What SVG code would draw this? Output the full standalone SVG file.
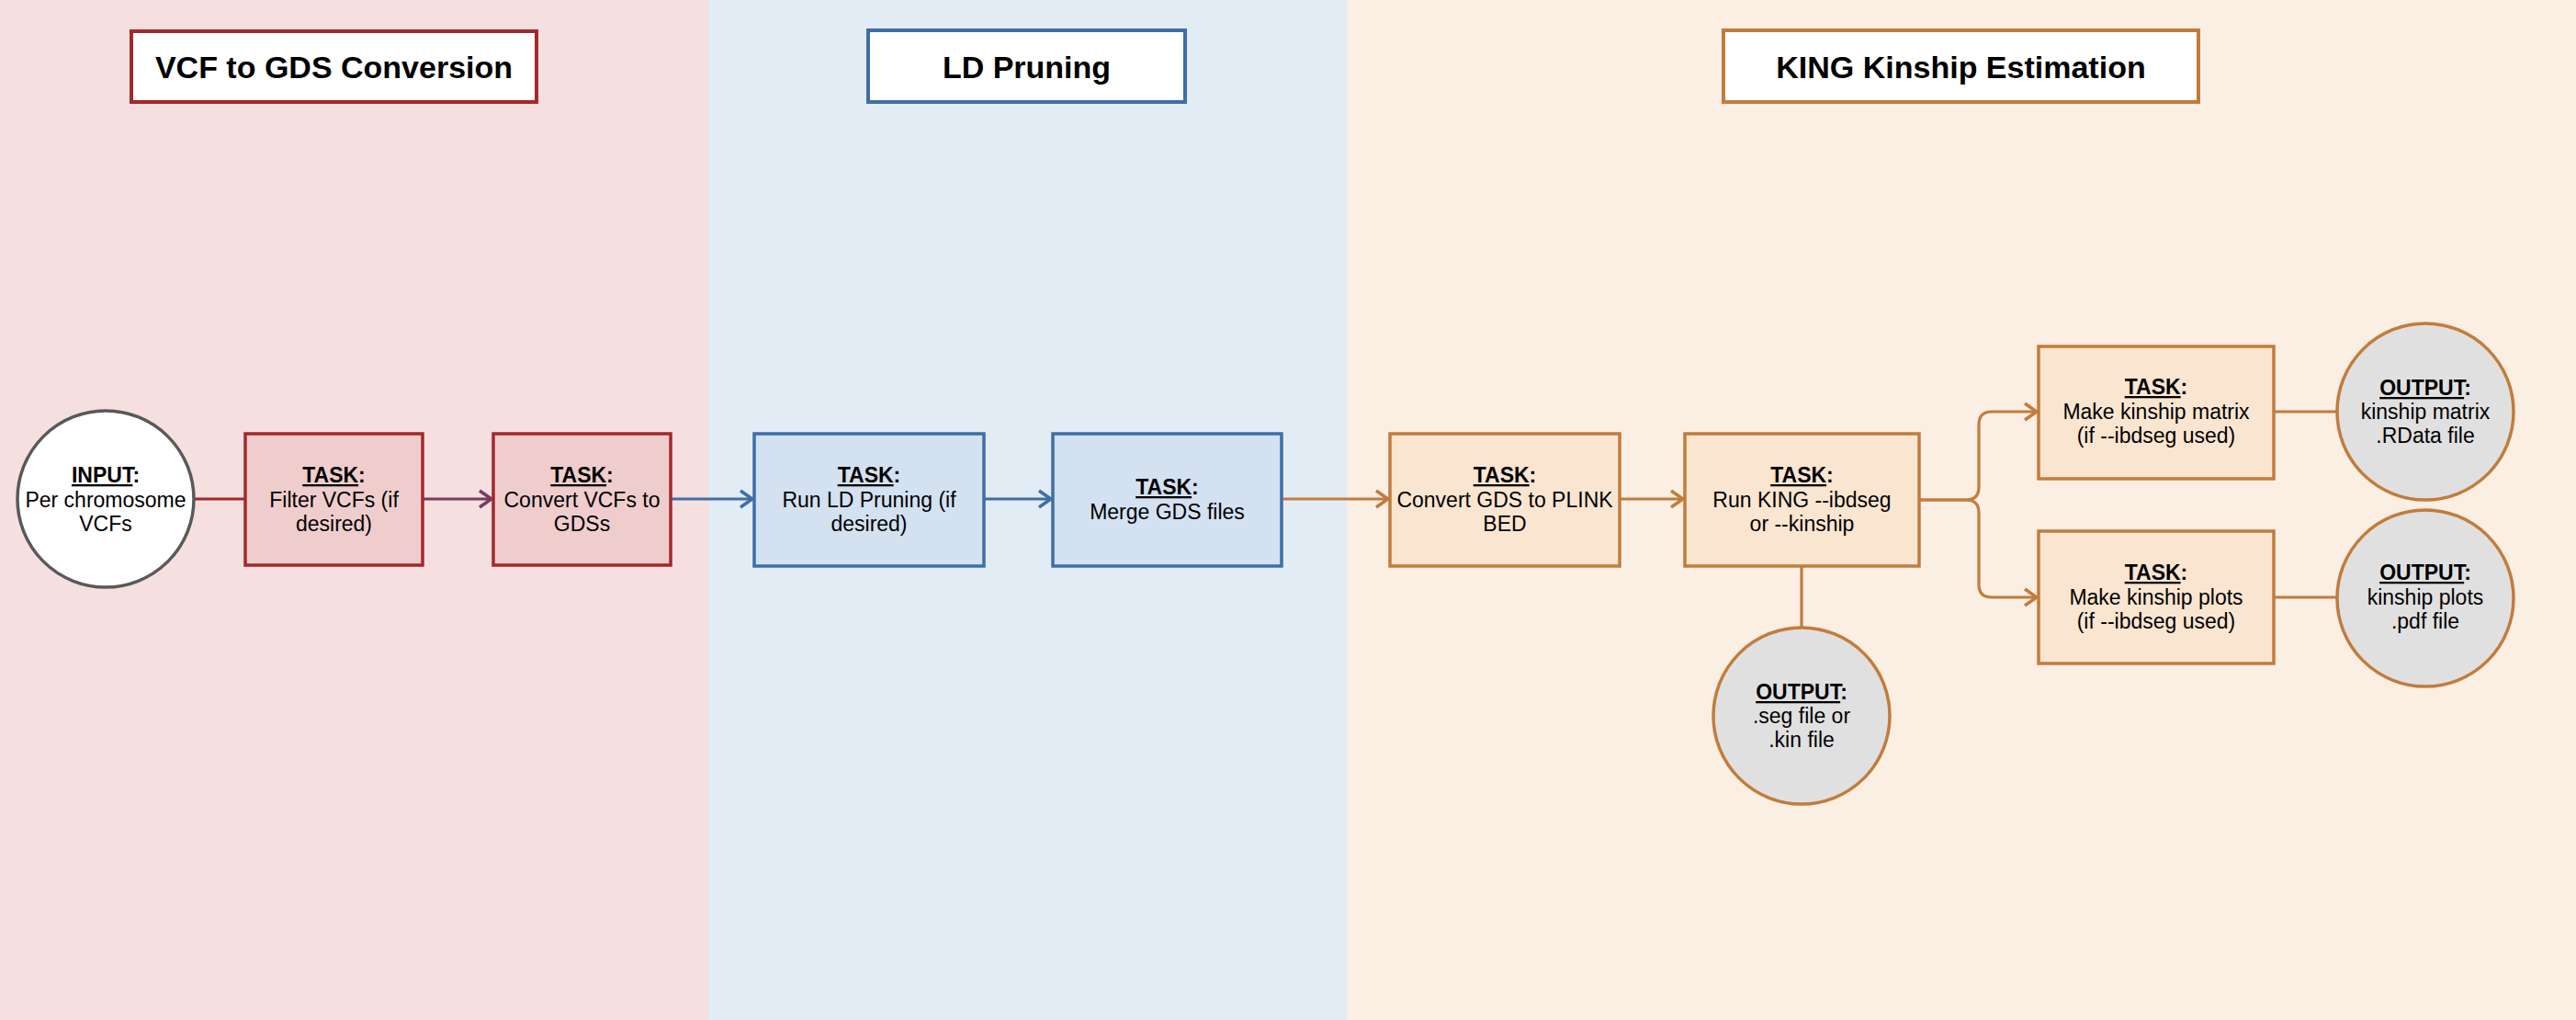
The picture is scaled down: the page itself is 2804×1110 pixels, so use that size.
<svg xmlns="http://www.w3.org/2000/svg" width="2804" height="1110" viewBox="0 0 2804 1110">
<style>
text{font-family:"Liberation Sans",Arial,sans-serif;font-size:23px;fill:#000;text-anchor:middle}
.title{font-size:34px;font-weight:bold}
.hd{font-weight:bold}
.u{text-decoration:underline}
.tr{fill:#fff;stroke-width:4}
.boxR{fill:#efcdcd;stroke:#a3282b;stroke-width:3.5}
.boxB{fill:#d3e1f0;stroke:#3f6ea7;stroke-width:3.5}
.boxO{fill:#fae5d0;stroke:#c17c3d;stroke-width:3.5}
.out{fill:#e0e0e0;stroke:#c17c3d;stroke-width:3.5}
.c{fill:none;stroke-width:3.2}
</style>
<defs>
<marker id="aP" viewBox="-17 -12 19 24" markerWidth="19" markerHeight="24" refX="0" refY="0" orient="auto" markerUnits="userSpaceOnUse"><path d="M-14,-9 L-1,0 L-14,9" fill="none" stroke="#7a3b5d" stroke-width="3.5"/></marker>
<marker id="aB" viewBox="-17 -12 19 24" markerWidth="19" markerHeight="24" refX="0" refY="0" orient="auto" markerUnits="userSpaceOnUse"><path d="M-14,-9 L-1,0 L-14,9" fill="none" stroke="#3f6ea7" stroke-width="3.5"/></marker>
<marker id="aO" viewBox="-17 -12 19 24" markerWidth="19" markerHeight="24" refX="0" refY="0" orient="auto" markerUnits="userSpaceOnUse"><path d="M-14,-9 L-1,0 L-14,9" fill="none" stroke="#c17c3d" stroke-width="3.5"/></marker>
</defs>
<g id="panels">
<rect x="0" y="0" width="771" height="1110" fill="#f5dfdf"/>
<rect x="771" y="0" width="695" height="1110" fill="#e2ecf5"/>
<rect x="1466" y="0" width="1338" height="1110" fill="#fbeee2"/>
</g>
<g id="title-vcf"><rect class="tr" x="143" y="34" width="441" height="77" stroke="#a3282b"/><text class="title" x="363.5" y="85">VCF to GDS Conversion</text></g>
<g id="title-ld"><rect class="tr" x="945" y="33" width="345" height="78" stroke="#3f6ea7"/><text class="title" x="1117.5" y="85">LD Pruning</text></g>
<g id="title-king"><rect class="tr" x="1876" y="33" width="517" height="78" stroke="#c17c3d"/><text class="title" x="2134.5" y="85">KING Kinship Estimation</text></g>
<g id="connectors">
<path class="c" d="M211,543 H267" stroke="#a3282b"/>
<path class="c" d="M460,543 H536" stroke="#7a3b5d" marker-end="url(#aP)"/>
<path class="c" d="M730,543 H820" stroke="#3f6ea7" marker-end="url(#aB)"/>
<path class="c" d="M1071,543 H1145" stroke="#3f6ea7" marker-end="url(#aB)"/>
<path class="c" d="M1395,543 H1512" stroke="#c17c3d" marker-end="url(#aO)"/>
<path class="c" d="M1763,543 H1833" stroke="#c17c3d" marker-end="url(#aO)"/>
<path class="c" d="M1961,616 V683" stroke="#c17c3d"/>
<path class="c" d="M2089,544 H2140 Q2154,544 2154,530 V462 Q2154,448 2168,448 H2218" stroke="#c17c3d" marker-end="url(#aO)"/>
<path class="c" d="M2089,544 H2140 Q2154,544 2154,558 V636 Q2154,650 2168,650 H2218" stroke="#c17c3d" marker-end="url(#aO)"/>
<path class="c" d="M2475,448 H2544" stroke="#c17c3d"/>
<path class="c" d="M2475,650 H2544" stroke="#c17c3d"/>
</g>
<g id="input"><circle cx="115" cy="543" r="96" fill="#fff" stroke="#595959" stroke-width="3.5"/>
<text x="115" y="525"><tspan class="hd u">INPUT</tspan><tspan class="hd">:</tspan></text><text x="115" y="552">Per chromosome</text><text x="115" y="578">VCFs</text></g>
<g id="filter"><rect class="boxR" x="267" y="472" width="193" height="143"/>
<text x="363.5" y="525"><tspan class="hd u">TASK</tspan><tspan class="hd">:</tspan></text><text x="363.5" y="552">Filter VCFs (if</text><text x="363.5" y="578">desired)</text></g>
<g id="convert-vcf"><rect class="boxR" x="537" y="472" width="193" height="143"/>
<text x="633.5" y="525"><tspan class="hd u">TASK</tspan><tspan class="hd">:</tspan></text><text x="633.5" y="552">Convert VCFs to</text><text x="633.5" y="578">GDSs</text></g>
<g id="run-ld"><rect class="boxB" x="821" y="472" width="250" height="144"/>
<text x="946" y="525"><tspan class="hd u">TASK</tspan><tspan class="hd">:</tspan></text><text x="946" y="552">Run LD Pruning (if</text><text x="946" y="578">desired)</text></g>
<g id="merge"><rect class="boxB" x="1146" y="472" width="249" height="144"/>
<text x="1270.5" y="538"><tspan class="hd u">TASK</tspan><tspan class="hd">:</tspan></text><text x="1270.5" y="565">Merge GDS files</text></g>
<g id="convert-gds"><rect class="boxO" x="1513" y="472" width="250" height="144"/>
<text x="1638" y="525"><tspan class="hd u">TASK</tspan><tspan class="hd">:</tspan></text><text x="1638" y="552">Convert GDS to PLINK</text><text x="1638" y="578">BED</text></g>
<g id="king"><rect class="boxO" x="1834" y="472" width="255" height="144"/>
<text x="1961.5" y="525"><tspan class="hd u">TASK</tspan><tspan class="hd">:</tspan></text><text x="1961.5" y="552">Run KING --ibdseg</text><text x="1961.5" y="578">or --kinship</text></g>
<g id="out-seg"><ellipse class="out" cx="1961" cy="779" rx="96" ry="96"/>
<text x="1961" y="761"><tspan class="hd u">OUTPUT</tspan><tspan class="hd">:</tspan></text><text x="1961" y="787">.seg file or</text><text x="1961" y="813">.kin file</text></g>
<g id="matrix"><rect class="boxO" x="2219" y="377" width="256" height="144"/>
<text x="2347" y="429"><tspan class="hd u">TASK</tspan><tspan class="hd">:</tspan></text><text x="2347" y="456">Make kinship matrix</text><text x="2347" y="482">(if --ibdseg used)</text></g>
<g id="plots"><rect class="boxO" x="2219" y="578" width="256" height="144"/>
<text x="2347" y="631"><tspan class="hd u">TASK</tspan><tspan class="hd">:</tspan></text><text x="2347" y="658">Make kinship plots</text><text x="2347" y="684">(if --ibdseg used)</text></g>
<g id="out-rdata"><ellipse class="out" cx="2640" cy="448" rx="96" ry="96"/>
<text x="2640" y="430"><tspan class="hd u">OUTPUT</tspan><tspan class="hd">:</tspan></text><text x="2640" y="456">kinship matrix</text><text x="2640" y="482">.RData file</text></g>
<g id="out-pdf"><ellipse class="out" cx="2640" cy="651" rx="96" ry="96"/>
<text x="2640" y="631"><tspan class="hd u">OUTPUT</tspan><tspan class="hd">:</tspan></text><text x="2640" y="658">kinship plots</text><text x="2640" y="684">.pdf file</text></g>
</svg>
